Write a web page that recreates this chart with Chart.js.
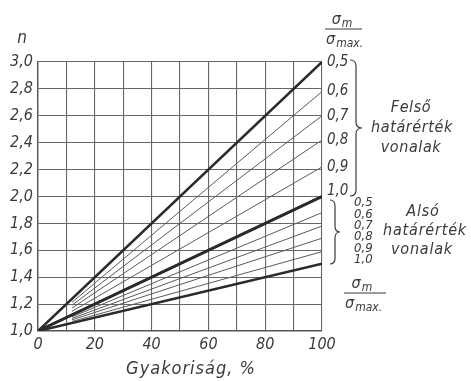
<!DOCTYPE html>
<html>
<head>
<meta charset="utf-8">
<script src="https://cdn.jsdelivr.net/npm/chart.js@4"></script>
<style>
  html, body { margin: 0; padding: 0; background: #ffffff; }
  #wrap { width: 471px; height: 381px; }
</style>
</head>
<body>
<div id="wrap"><canvas id="c" width="471" height="381"></canvas></div>
<script>
// Frequency axis (Gyakoriság, %)
const freqStart = 0;
const freqEnd = 100;
// Ratio σm/σmax for each family of lines
const ratioLabels = ['0,5', '0,6', '0,7', '0,8', '0,9', '1,0'];
// n at 100 % frequency – upper limit lines (Felső határérték vonalak)
const upperEnd = [3.0, 2.78, 2.6, 2.42, 2.22, 2.0];
// n at 100 % frequency – lower limit lines (Alsó határérték vonalak)
const lowerEnd = [2.0, 1.88, 1.78, 1.69, 1.59, 1.5];
// n at 0 % frequency (common origin)
const nStart = 1.0;
// Axis tick labels
const xTickLabels = [0, 20, 40, 60, 80, 100];
const yTickLabels = [1.0, 1.2, 1.4, 1.6, 1.8, 2.0, 2.2, 2.4, 2.6, 2.8, 3.0];

const FONT = "'DejaVu Sans Condensed', 'DejaVu Sans', sans-serif";
const INK = '#3a3a3a';
const THIN = '#5a5a5a';
// thin lines are only drawn right of this frequency, clear of the origin
const THIN_FROM = 12;

function makeLine(end, i, last) {
  const thick = (i === 0 || i === last);
  return {
    data: [{ x: freqStart, y: nStart }, { x: freqEnd, y: end }],
    showLine: true,
    pointRadius: 0,
    borderWidth: thick ? 2.6 : 1,
    borderColor: thick ? '#2b2b2b' : THIN,
    thin: !thick,
    fill: false
  };
}

const datasets = [];
upperEnd.forEach((v, i) => datasets.push(makeLine(v, i, upperEnd.length - 1)));
lowerEnd.forEach((v, i) => datasets.push(makeLine(v, i, lowerEnd.length - 1)));

// Clip the thin lines so that they begin a little right of the origin
const thinClip = {
  id: 'thinClip',
  beforeDatasetDraw(chart, args) {
    const ds = chart.data.datasets[args.index];
    if (!ds.thin) return;
    const a = chart.chartArea;
    const x0 = chart.scales.x.getPixelForValue(THIN_FROM);
    const ctx = chart.ctx;
    ctx.save();
    ctx.beginPath();
    ctx.rect(x0, a.top - 5, a.right - x0 + 5, a.bottom - a.top + 10);
    ctx.clip();
  },
  afterDatasetDraw(chart, args) {
    const ds = chart.data.datasets[args.index];
    if (ds.thin) chart.ctx.restore();
  }
};

function sigma(ctx, x, y, sub, size) {
  ctx.font = 'italic ' + size + 'px ' + FONT;
  ctx.textAlign = 'left';
  ctx.textBaseline = 'alphabetic';
  ctx.fillText('σ', x, y);
  const w = ctx.measureText('σ').width;
  ctx.font = 'italic ' + Math.round(size * 0.72) + 'px ' + FONT;
  ctx.fillText(sub, x + w + 1, y + 3);
}

function fraction(ctx, x1, x2, yLine, size) {
  ctx.strokeStyle = INK;
  ctx.lineWidth = 1.1;
  ctx.beginPath();
  ctx.moveTo(x1, yLine);
  ctx.lineTo(x2, yLine);
  ctx.stroke();
  sigma(ctx, x1 + (x2 - x1) * 0.18, yLine - 5, 'm', size);
  sigma(ctx, x1 + 1, yLine + 15, 'max.', size);
}

// Curly brace; the point of the brace faces right
function brace(ctx, x, y1, y2, d) {
  const ym = (y1 + y2) / 2;
  const h = d / 2;
  const r = 6;
  ctx.strokeStyle = INK;
  ctx.lineWidth = 1.2;
  ctx.beginPath();
  ctx.moveTo(x, y1);
  ctx.quadraticCurveTo(x + h, y1, x + h, y1 + r);
  ctx.lineTo(x + h, ym - r);
  ctx.quadraticCurveTo(x + h, ym, x + d, ym);
  ctx.quadraticCurveTo(x + h, ym, x + h, ym + r);
  ctx.lineTo(x + h, y2 - r);
  ctx.quadraticCurveTo(x + h, y2, x, y2);
  ctx.stroke();
}

const annotations = {
  id: 'annotations',
  afterDraw(chart) {
    const ctx = chart.ctx;
    const xs = chart.scales.x;
    const ys = chart.scales.y;
    ctx.save();
    ctx.fillStyle = INK;

    // axis name n
    ctx.font = 'italic 17px ' + FONT;
    ctx.textAlign = 'center';
    ctx.textBaseline = 'middle';
    ctx.fillText('n', 22, 39);

    // x axis title
    ctx.font = 'italic 18px ' + FONT;
    ctx.letterSpacing = '1px';
    ctx.textAlign = 'center';
    ctx.textBaseline = 'alphabetic';
    ctx.fillText('Gyakoriság, %', 191, 374);
    ctx.letterSpacing = '0px';

    const xr = xs.getPixelForValue(freqEnd);

    // upper family: ratio labels at the line ends
    fraction(ctx, xr + 3, xr + 40, 29, 16);
    ctx.font = 'italic 15px ' + FONT;
    ctx.textAlign = 'left';
    ctx.textBaseline = 'middle';
    upperEnd.forEach((v, i) => {
      let y = ys.getPixelForValue(v);
      if (i === upperEnd.length - 1) y -= 5;
      ctx.fillText(ratioLabels[i], xr + 5, y);
    });
    brace(ctx, 350, 60, 196, 12);
    ctx.font = 'italic 16px ' + FONT;
    ctx.letterSpacing = '0.6px';
    ctx.textAlign = 'center';
    ctx.fillText('Felső', 411, 108);
    ctx.fillText('határérték', 412, 128);
    ctx.fillText('vonalak', 411, 148);
    ctx.letterSpacing = '0px';

    // lower family: stacked ratio labels
    brace(ctx, 330, 200, 264, 10);
    ctx.font = 'italic 13px ' + FONT;
    ctx.textAlign = 'left';
    ctx.textBaseline = 'middle';
    ratioLabels.forEach((t, i) => {
      ctx.fillText(t, 354, 203 + i * 11.3);
    });
    ctx.font = 'italic 16px ' + FONT;
    ctx.letterSpacing = '0.8px';
    ctx.textAlign = 'center';
    ctx.fillText('Alsó', 423, 212);
    ctx.fillText('határérték', 425, 231);
    ctx.fillText('vonalak', 422, 250);
    ctx.letterSpacing = '0px';

    fraction(ctx, 344, 386, 293, 16);
    ctx.restore();
  }
};

new Chart(document.getElementById('c'), {
  type: 'scatter',
  data: { datasets },
  plugins: [thinClip, annotations],
  options: {
    responsive: false,
    animation: false,
    events: [],
    layout: { padding: { top: 62, right: 149, left: 0, bottom: 0 } },
    plugins: { legend: { display: false }, tooltip: { enabled: false } },
    scales: {
      x: {
        type: 'linear',
        min: freqStart,
        max: freqEnd,
        afterFit(s) { s.height = 50; },
        afterBuildTicks(s) {
          const t = [];
          for (let v = freqStart; v <= freqEnd; v += 10) t.push({ value: v });
          s.ticks = t;
        },
        ticks: {
          color: INK,
          padding: 4,
          font: { family: FONT, size: 16, style: 'italic' },
          maxRotation: 0,
          autoSkip: false,
          callback: v => xTickLabels.includes(v) ? String(v) : ''
        },
        grid: { color: '#666', lineWidth: 1.1, drawTicks: false },
        border: { color: '#555', width: 1.4 }
      },
      y: {
        type: 'linear',
        min: yTickLabels[0],
        max: yTickLabels[yTickLabels.length - 1],
        afterFit(s) { s.width = 38; },
        afterBuildTicks(s) { s.ticks = yTickLabels.map(v => ({ value: v })); },
        ticks: {
          color: INK,
          padding: 5,
          font: { family: FONT, size: 16, style: 'italic' },
          callback: v => v.toFixed(1).replace('.', ',')
        },
        grid: { color: '#666', lineWidth: 1.1, drawTicks: false },
        border: { color: '#555', width: 1.4 }
      }
    }
  }
});
</script>
</body>
</html>
